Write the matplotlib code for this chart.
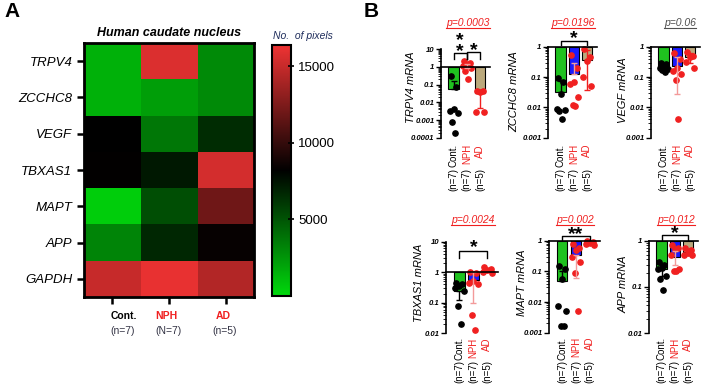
import numpy as np
import matplotlib
matplotlib.use('Agg')
import matplotlib.pyplot as plt
from matplotlib.colors import LinearSegmentedColormap
from matplotlib.ticker import LogLocator, NullFormatter
from matplotlib.lines import Line2D

plt.rcParams['font.family'] = ['Liberation Sans', 'DejaVu Sans']

# ---- panel A: heatmap (no. of pixels) ----
genes = ['TRPV4', 'ZCCHC8', 'VEGF', 'TBXAS1', 'MAPT', 'APP', 'GAPDH']
hm_groups = ['Cont.', 'NPH', 'AD']
hm_n = ['(n=7)', '(N=7)', '(n=5)']
hm_pixels = [
    [1500, 15700, 3000],
    [1500, 2200, 3000],
    [8200, 3700, 6500],
    [8300, 7300, 15500],
    [400, 5200, 12000],
    [3200, 6700, 8400],
    [15000, 16200, 14300],
]

# ---- panel B: relative mRNA (individual values, mean, whisker ends) ----
groups = ['Cont.', 'NPH', 'AD']
group_n = ['(n=7)', '(n=7)', '(n=5)']

trpv4_cont = [0.3, 0.07, 0.004, 0.0035, 0.0025, 0.0008, 0.0002]
trpv4_nph = [2.0, 1.6, 1.3, 1.1, 0.9, 0.6, 0.2]
trpv4_ad = [0.045, 0.042, 0.04, 0.003, 0.003]
trpv4_mean = [0.06, 1.05, 0.035]
trpv4_err = [(0.06, 0.15), (0.85, 1.4), (0.005, 0.035)]

zcchc8_cont = [0.09, 0.07, 0.028, 0.009, 0.008, 0.0075, 0.0042]
zcchc8_nph = [0.55, 0.2, 0.07, 0.06, 0.022, 0.012, 0.011]
zcchc8_ad = [0.85, 0.45, 0.35, 0.1, 0.05]
zcchc8_mean = [0.032, 0.13, 0.36]
zcchc8_err = [(0.032, 0.075), (0.13, 0.3), (0.038, 0.8)]

vegf_cont = [0.3, 0.26, 0.22, 0.2, 0.18, 0.17, 0.15]
vegf_nph = [0.6, 0.4, 0.2, 0.16, 0.13, 0.08, 0.004]
vegf_ad = [0.65, 0.5, 0.45, 0.32, 0.2]
vegf_mean = [0.2, 0.23, 0.45]
vegf_err = [(0.17, 0.24), (0.028, 0.45), (0.3, 0.6)]

tbxas1_cont = [0.45, 0.4, 0.35, 0.3, 0.25, 0.08, 0.02]
tbxas1_nph = [1.0, 0.95, 0.5, 0.45, 0.4, 0.04, 0.013]
tbxas1_ad = [1.5, 1.3, 1.15, 1.0, 0.95]
tbxas1_mean = [0.24, 0.55, 1.15]
tbxas1_err = [(0.12, 0.24), (0.1, 1.0), (1.0, 1.3)]

mapt_cont = [0.15, 0.12, 0.055, 0.0075, 0.005, 0.0016, 0.0016]
mapt_nph = [0.8, 0.6, 0.5, 0.3, 0.2, 0.09, 0.005]
mapt_ad = [0.95, 0.9, 0.85, 0.8, 0.75]
mapt_mean = [0.048, 0.34, 0.85]
mapt_err = [(0.048, 0.1), (0.06, 0.34), (0.8, 0.9)]

app_cont = [0.35, 0.3, 0.26, 0.24, 0.17, 0.15, 0.085]
app_nph = [0.8, 0.7, 0.65, 0.5, 0.25, 0.22, 0.22]
app_ad = [0.7, 0.62, 0.55, 0.5, 0.48]
app_mean = [0.24, 0.45, 0.57]
app_err = [(0.17, 0.3), (0.3, 0.6), (0.5, 0.65)]

p_values = ['p=0.0003', 'p=0.0196', 'p=0.06', 'p=0.0024', 'p=0.002', 'p=0.012']

W, H = 706, 387
fig = plt.figure(figsize=(W / 100, H / 100), dpi=100)


def rect(l, t, w, h):
    return [l / W, 1 - (t + h) / H, w / W, h / H]


def fp(x, y):
    return x / W, 1 - y / H


RED = '#f02020'
GREEN = '#1fc21f'
BLUE = '#1a1aff'
TAN = '#bba97c'
PINK = '#f39a9a'

# ================= panel A =================
fig.text(*fp(4, 2), 'A', fontsize=15, fontweight='bold', ha='left', va='top')
ax = fig.add_axes(rect(84, 43, 170, 254))
cmap = LinearSegmentedColormap.from_list('gkr', ['#00d80c', '#000000', '#ee3333'])
im = ax.imshow(np.array(hm_pixels), cmap=cmap, vmin=0, vmax=16400,
               aspect='auto', interpolation='nearest')
ax.set_yticks(range(len(genes)))
ax.set_yticklabels(genes, fontsize=9.5, style='italic')
ax.set_xticks(range(len(hm_groups)))
ax.set_xticklabels([])
ax.tick_params(axis='both', length=5, width=1.8)
for s in ax.spines.values():
    s.set_linewidth(2)
ax.set_title('Human caudate nucleus', fontsize=9, fontweight='bold',
             style='italic', pad=5)
for x1, x2, g, n, c in zip([124, 166, 223], [123, 169, 225], hm_groups, hm_n,
                           ['black', RED, RED]):
    fig.text(*fp(x1, 316), g, fontsize=7.5, fontweight='bold', color=c,
             ha='center', va='center')
    fig.text(*fp(x2, 331), n, fontsize=7.5, color='#333344',
             ha='center', va='center')

cax = fig.add_axes(rect(272, 45, 19, 251))
cb = fig.colorbar(im, cax=cax)
cb.set_ticks([5000, 10000, 15000])
cax.tick_params(labelsize=9.5, length=4, width=1.2, direction='inout', pad=3)
cb.outline.set_linewidth(1.5)
fig.text(*fp(303, 36), 'No.  of pixels', fontsize=7.5, style='italic',
         color='#1f2d5c', ha='center', va='center')

# ================= panel B =================
fig.text(*fp(364, 2), 'B', fontsize=15, fontweight='bold', ha='left', va='top')

bar_colors = [GREEN, BLUE, TAN]
pt_colors = ['black', RED, RED]
err_colors = ['black', PINK, RED]
lab_colors = ['black', RED, RED]
JIT = [-0.22, 0.22, 0.0, -0.3, 0.3, -0.1, 0.12]

panels = [
    dict(gene='TRPV4', data=[trpv4_cont, trpv4_nph, trpv4_ad], mean=trpv4_mean,
         err=trpv4_err, ylim=(-4, 1), box=(441, 49, 49, 89), lab=(411, 87),
         p=(468, 23, RED), off=(6, 30),
         brackets=[(0, 1, -4.3, -10.3, -10.3), (1, 2, -2.7, -10, -10)],
         stars=[(0.5, -1, '*\n*'), (1.5, 0, '*')]),
    dict(gene='ZCCHC8', data=[zcchc8_cont, zcchc8_nph, zcchc8_ad], mean=zcchc8_mean,
         err=zcchc8_err, ylim=(-3, 0), box=(548, 46.7, 49, 91), lab=(514, 92),
         p=(573, 23, RED), off=(6, 30),
         brackets=[(0, 2, 6, 1.7, 1.7)], stars=[(1, 10.5, '*')]),
    dict(gene='VEGF', data=[vegf_cont, vegf_nph, vegf_ad], mean=vegf_mean,
         err=vegf_err, ylim=(-3, 0), box=(651, 46.7, 49, 91), lab=(623, 90),
         p=(680, 23, '#505050'), off=(6, 30), brackets=[], stars=[]),
    dict(gene='TBXAS1', data=[tbxas1_cont, tbxas1_nph, tbxas1_ad], mean=tbxas1_mean,
         err=tbxas1_err, ylim=(-2, 1), box=(446, 241.7, 52, 91.6), lab=(419, 283),
         p=(473, 220, RED), off=(4, 27),
         brackets=[(0, 2, -9.3, -16, -16)], stars=[(1, -3.8, '*')]),
    dict(gene='MAPT', data=[mapt_cont, mapt_nph, mapt_ad], mean=mapt_mean,
         err=mapt_err, ylim=(-3, 0), box=(549, 240.7, 51, 92), lab=(522, 283),
         p=(575, 220, RED), off=(4, 27),
         brackets=[(0, 2, 5, 0.7, 0.7)], stars=[(1, 8, '**')]),
    dict(gene='APP', data=[app_cont, app_nph, app_ad], mean=app_mean,
         err=app_err, ylim=(-2, 0), box=(649, 240.7, 49, 92.6), lab=(624, 284),
         p=(676, 220, RED), off=(4, 27),
         brackets=[(0, 2, 5.7, 1, 1)], stars=[(1, 9, '*')]),
]

p_texts = []
for cfg, ptxt in zip(panels, p_values):
    l, t, w, h = cfg['box']
    ax = fig.add_axes(rect(l, t, w, h))
    ax.patch.set_alpha(0)
    ax.set_yscale('log')
    lo, hi = cfg['ylim']
    ax.set_ylim(10.0 ** lo, 10.0 ** hi)
    ax.set_xlim(-0.95, 2.75)

    for i, (vals, m, (elo, ehi)) in enumerate(zip(cfg['data'], cfg['mean'], cfg['err'])):
        ax.bar(i, m - 1, bottom=1, width=0.78, color=bar_colors[i],
               edgecolor='black', linewidth=0.8, zorder=2)
        ax.errorbar(i, m, yerr=[[m - elo], [ehi - m]], fmt='none',
                    ecolor=err_colors[i], elinewidth=1, capsize=2.5,
                    capthick=1, zorder=4)
        xs = [i + JIT[k % len(JIT)] for k in range(len(vals))]
        ax.plot(xs, vals, 'o', ms=3.8, color=pt_colors[i], mec=pt_colors[i],
                zorder=3, clip_on=False)

    ax.axhline(1, color='black', lw=1.2, zorder=5, clip_on=False)
    for s in ['top', 'right', 'bottom']:
        ax.spines[s].set_visible(False)
    ax.spines['left'].set_linewidth(1.2)
    ax.set_xticks([])
    majors = [10.0 ** k for k in range(lo, hi + 1)]
    ax.set_yticks(majors)
    ax.set_yticklabels([f'{v:g}' for v in majors], fontsize=5.6,
                       fontweight='bold', style='italic')
    ax.yaxis.set_minor_locator(LogLocator(base=10, subs=np.arange(2, 10), numticks=20))
    ax.yaxis.set_minor_formatter(NullFormatter())
    ax.tick_params(axis='y', which='major', length=3.5, width=1, pad=1.2)
    ax.tick_params(axis='y', which='minor', length=2, width=0.6)

    fig.text(*fp(*cfg['lab']), cfg['gene'] + ' mRNA', fontsize=8,
             style='italic', rotation=90, ha='center', va='center')

    o1, o2 = cfg['off']
    for i in range(3):
        ax.annotate(groups[i], xy=(i, 0), xycoords=('data', 'axes fraction'),
                    xytext=(0, -o1), textcoords='offset pixels', rotation=90,
                    ha='center', va='top', fontsize=7, color=lab_colors[i])
        ax.annotate(group_n[i], xy=(i, 0), xycoords=('data', 'axes fraction'),
                    xytext=(0, -o2), textcoords='offset pixels', rotation=90,
                    ha='center', va='top', fontsize=7, color='black')

    tr = ax.get_xaxis_transform()
    for x0, x1, top, d0, d1 in cfg['brackets']:
        ax.plot([x0, x0, x1, x1], [1 + d0 / h, 1 + top / h, 1 + top / h, 1 + d1 / h],
                color='black', lw=1, transform=tr, clip_on=False, zorder=6)
    for xs_, yc, s in cfg['stars']:
        ax.text(xs_, 1 + (yc - 6.5) / h, s, transform=tr, ha='center',
                va='baseline', fontsize=14, fontweight='bold', zorder=6,
                linespacing=0.55)

    px, py, pc = cfg['p']
    p_texts.append(fig.text(*fp(px, py), ptxt, fontsize=7.5, style='italic',
                            color=pc, ha='center', va='center'))

fig.canvas.draw()
for t in p_texts:
    bb = t.get_window_extent()
    y = bb.y0 + 0.5
    fig.add_artist(Line2D([bb.x0 / W, bb.x1 / W], [y / H, y / H], color=t.get_color(),
                          lw=0.8, transform=fig.transFigure))

fig.savefig('out.png', dpi=100)
